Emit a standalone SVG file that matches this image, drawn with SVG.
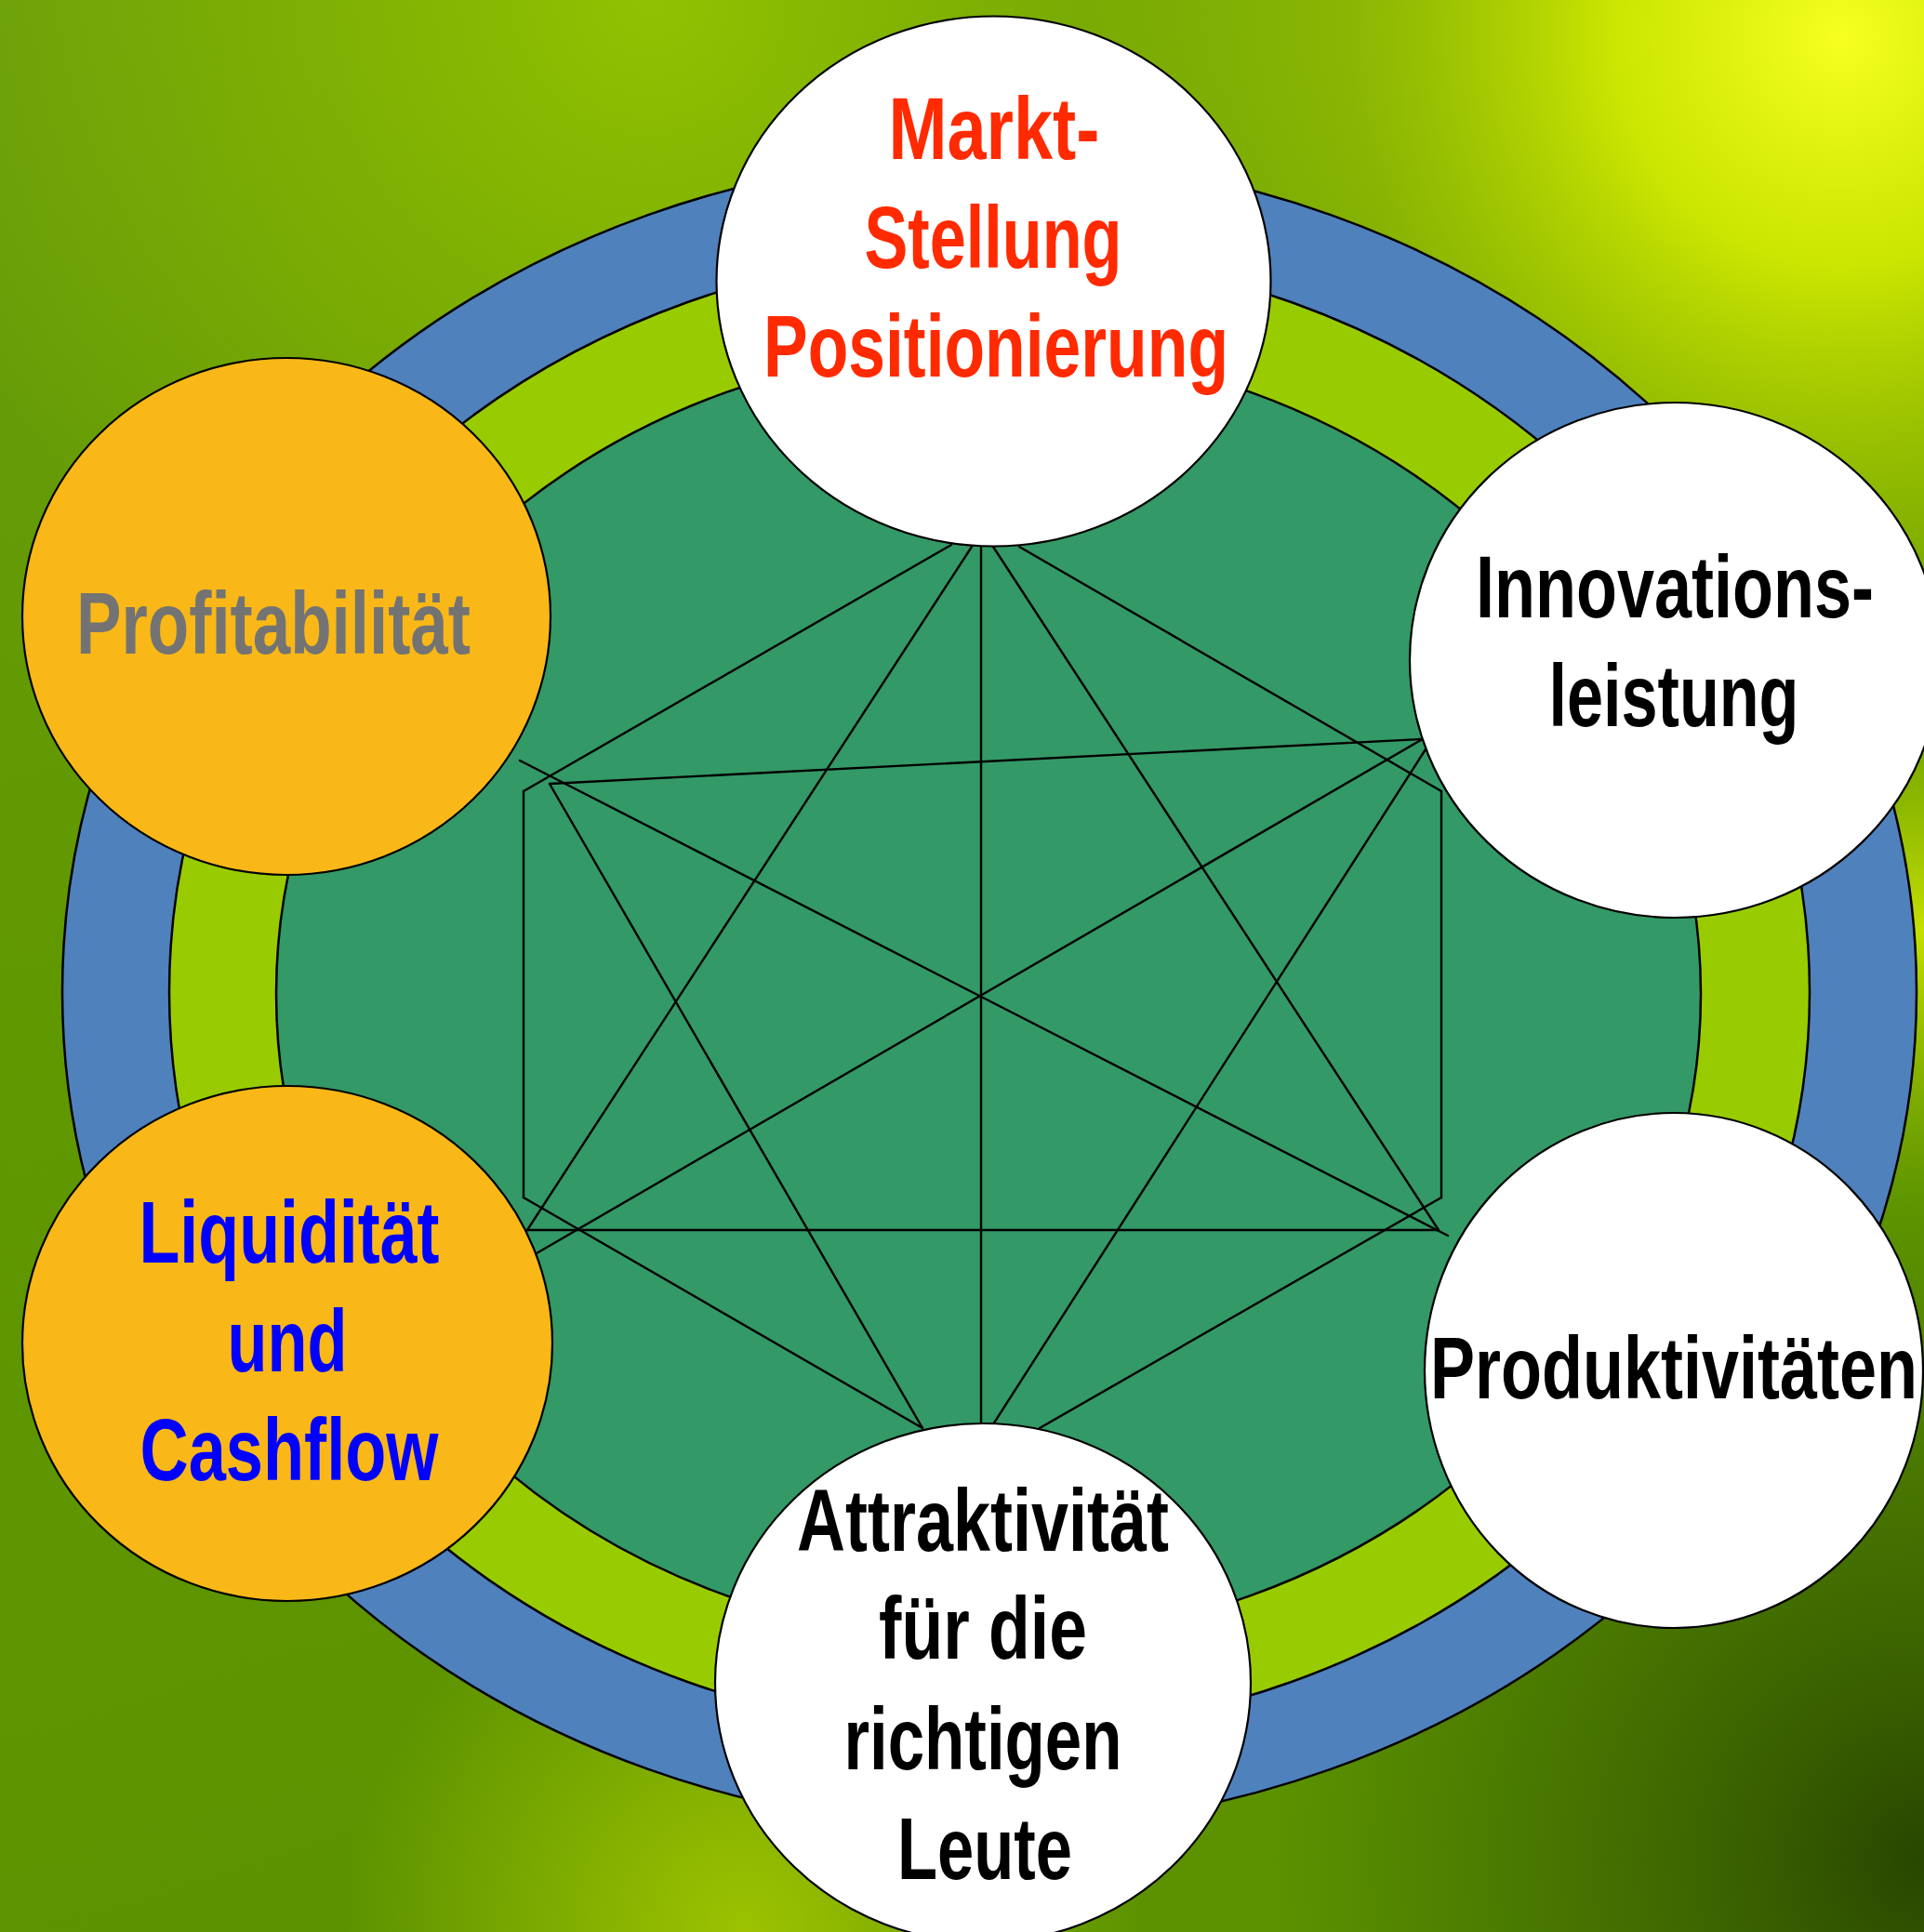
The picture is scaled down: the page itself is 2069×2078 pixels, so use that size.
<svg xmlns="http://www.w3.org/2000/svg" width="2069" height="2078" viewBox="0 0 2069 2078">
<defs>
<linearGradient id="bg" x1="0" y1="0" x2="0.3" y2="1">
<stop offset="0" stop-color="#6a9e0c"/>
<stop offset="0.5" stop-color="#609800"/>
<stop offset="1" stop-color="#5c9200"/>
</linearGradient>
<radialGradient id="glowTC" cx="700" cy="0" r="820" gradientUnits="userSpaceOnUse">
<stop offset="0" stop-color="#94c400" stop-opacity="0.95"/>
<stop offset="0.6" stop-color="#88b800" stop-opacity="0.5"/>
<stop offset="1" stop-color="#88b800" stop-opacity="0"/>
</radialGradient>
<radialGradient id="glowTR" cx="1980" cy="40" r="820" gradientUnits="userSpaceOnUse">
<stop offset="0" stop-color="#f6ff20" stop-opacity="1"/>
<stop offset="0.3" stop-color="#d6ee00" stop-opacity="0.9"/>
<stop offset="0.65" stop-color="#aacc00" stop-opacity="0.5"/>
<stop offset="1" stop-color="#aacc00" stop-opacity="0"/>
</radialGradient>
<radialGradient id="glowR" cx="2069" cy="1000" r="300" gradientUnits="userSpaceOnUse">
<stop offset="0" stop-color="#d0e800" stop-opacity="0.9"/>
<stop offset="1" stop-color="#a8cc00" stop-opacity="0"/>
</radialGradient>
<radialGradient id="glowB" cx="800" cy="2078" r="430" gradientUnits="userSpaceOnUse">
<stop offset="0" stop-color="#a4c800" stop-opacity="0.9"/>
<stop offset="1" stop-color="#a4c800" stop-opacity="0"/>
</radialGradient>
<radialGradient id="darkBR" cx="2069" cy="2000" r="700" gradientUnits="userSpaceOnUse">
<stop offset="0" stop-color="#284600" stop-opacity="1"/>
<stop offset="0.5" stop-color="#3a6200" stop-opacity="0.7"/>
<stop offset="1" stop-color="#3a6200" stop-opacity="0"/>
</radialGradient>
<style>
.ring{stroke:#000;stroke-width:2.5}
.node{stroke:#000;stroke-width:2.2}
.white{fill:#ffffff}
.orange{fill:#f9b818}
.conn line{stroke:#000;stroke-width:2.4;stroke-linecap:round}
.lbl{font-family:"Liberation Sans",Arial,sans-serif;font-weight:bold;font-size:94px;text-anchor:middle}
</style>
</defs>

<g id="background">
<rect x="0" y="0" width="2069" height="2078" fill="url(#bg)"/>
<rect x="0" y="0" width="2069" height="2078" fill="url(#glowTC)"/>
<rect x="0" y="0" width="2069" height="2078" fill="url(#glowTR)"/>
<rect x="0" y="0" width="2069" height="2078" fill="url(#glowR)"/>
<rect x="0" y="0" width="2069" height="2078" fill="url(#glowB)"/>
<rect x="0" y="0" width="2069" height="2078" fill="url(#darkBR)"/>
</g>

<g id="rings">
<ellipse class="ring" cx="1064" cy="1067" rx="997" ry="899" fill="#4f81bd"/>
<ellipse class="ring" cx="1064" cy="1067" rx="882" ry="798" fill="#99cc00"/>
<ellipse class="ring" cx="1063" cy="1069" rx="766" ry="696" fill="#339966"/>
</g>

<g id="connectors" class="conn">
<line x1="1023" y1="586" x2="563" y2="851"/>
<line x1="563" y1="851" x2="563" y2="1288"/>
<line x1="563" y1="1288" x2="992" y2="1536"/>
<line x1="1096" y1="588" x2="1550" y2="851"/>
<line x1="1550" y1="851" x2="1550" y2="1288"/>
<line x1="1550" y1="1288" x2="1118" y2="1536"/>
<line x1="1045" y1="588" x2="567" y2="1323"/>
<line x1="1055" y1="588" x2="1055" y2="1531"/>
<line x1="1068" y1="588" x2="1547" y2="1323"/>
<line x1="567" y1="1323" x2="1547" y2="1323"/>
<line x1="591" y1="843" x2="1528" y2="795"/>
<line x1="591" y1="843" x2="992" y2="1536"/>
<line x1="559" y1="818" x2="1557" y2="1329"/>
<line x1="1528" y1="796" x2="577" y2="1348"/>
<line x1="1533" y1="806" x2="1068" y2="1532"/>
</g>

<g id="node-markt">
<ellipse class="node white" cx="1068.5" cy="302.5" rx="298" ry="285"/>
<text class="lbl" fill="#ff2a00" transform="translate(1069,171) scale(0.76,1)" x="0" y="0" textLength="298.7" lengthAdjust="spacingAndGlyphs">Markt-</text>
<text class="lbl" fill="#ff2a00" transform="translate(1068,288) scale(0.76,1)" x="0" y="0" textLength="364.5" lengthAdjust="spacingAndGlyphs">Stellung</text>
<text class="lbl" fill="#ff2a00" transform="translate(1071,405) scale(0.76,1)" x="0" y="0" textLength="657.9" lengthAdjust="spacingAndGlyphs">Positionierung</text>
</g>

<g id="node-innovation">
<ellipse class="node white" cx="1801" cy="710" rx="285" ry="277"/>
<text class="lbl" fill="#000" transform="translate(1801,664) scale(0.76,1)" x="0" y="0" textLength="563.2" lengthAdjust="spacingAndGlyphs">Innovations-</text>
<text class="lbl" fill="#000" transform="translate(1800,781) scale(0.76,1)" x="0" y="0" textLength="353.9" lengthAdjust="spacingAndGlyphs">leistung</text>
</g>

<g id="node-produktivitaet">
<ellipse class="node white" cx="1800" cy="1474" rx="268" ry="277"/>
<text class="lbl" fill="#000" transform="translate(1800,1504) scale(0.76,1)" x="0" y="0" textLength="689.5" lengthAdjust="spacingAndGlyphs">Produktivitäten</text>
</g>

<g id="node-attraktivitaet">
<ellipse class="node white" cx="1057" cy="1810" rx="288" ry="279"/>
<text class="lbl" fill="#000" transform="translate(1057,1668) scale(0.76,1)" x="0" y="0" textLength="526.3" lengthAdjust="spacingAndGlyphs">Attraktivität</text>
<text class="lbl" fill="#000" transform="translate(1057,1784) scale(0.76,1)" x="0" y="0" textLength="294.7" lengthAdjust="spacingAndGlyphs">für die</text>
<text class="lbl" fill="#000" transform="translate(1057,1903) scale(0.76,1)" x="0" y="0" textLength="393.4" lengthAdjust="spacingAndGlyphs">richtigen</text>
<text class="lbl" fill="#000" transform="translate(1059,2021) scale(0.76,1)" x="0" y="0" textLength="247.4" lengthAdjust="spacingAndGlyphs">Leute</text>
</g>

<g id="node-liquiditaet">
<ellipse class="node orange" cx="309" cy="1445" rx="285" ry="277"/>
<text class="lbl" fill="#0000ff" transform="translate(311,1358) scale(0.76,1)" x="0" y="0" textLength="425" lengthAdjust="spacingAndGlyphs">Liquidität</text>
<text class="lbl" fill="#0000ff" transform="translate(309,1475) scale(0.76,1)" x="0" y="0" textLength="169.7" lengthAdjust="spacingAndGlyphs">und</text>
<text class="lbl" fill="#0000ff" transform="translate(311,1592) scale(0.76,1)" x="0" y="0" textLength="422.4" lengthAdjust="spacingAndGlyphs">Cashflow</text>
</g>

<g id="node-profitabilitaet">
<ellipse class="node orange" cx="308" cy="663" rx="284" ry="278"/>
<text class="lbl" fill="#737373" transform="translate(294,703) scale(0.76,1)" x="0" y="0" textLength="557.9" lengthAdjust="spacingAndGlyphs">Profitabilität</text>
</g>
</svg>
